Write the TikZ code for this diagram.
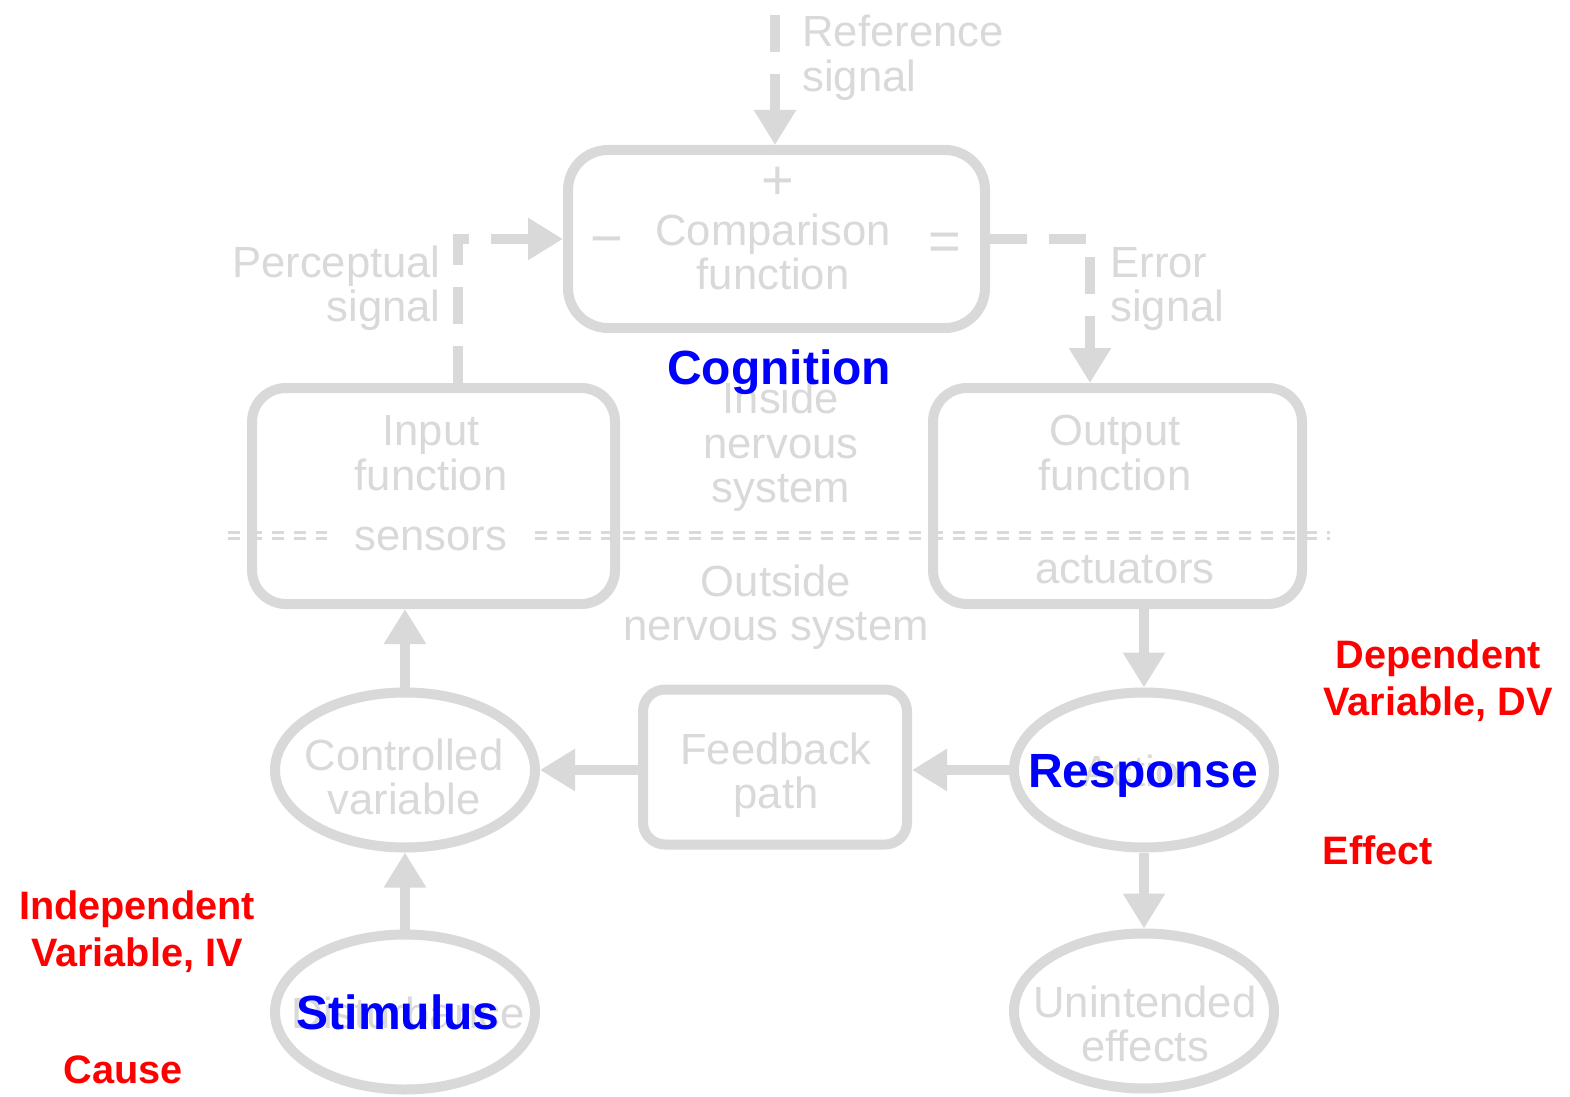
\documentclass[tikz,border=0pt]{standalone}
\usepackage{fontspec}
\setmainfont{Liberation Sans}
\usetikzlibrary{arrows.meta,shapes.geometric}
\definecolor{lg}{HTML}{D9D9D9}
\definecolor{bl}{HTML}{0000FF}
\definecolor{rd}{HTML}{FF0000}
\begin{document}
\begin{tikzpicture}[x=0.5pt,y=-0.5pt,
  box/.style={draw=lg,line width=5pt,inner sep=0pt},
  ell/.style={draw=lg,line width=5pt,ellipse,inner sep=0pt,minimum width=130pt,minimum height=77.5pt},
  gtxt/.style={text=lg,font=\fontsize{21.8pt}{22.25pt}\selectfont,align=center,inner sep=0pt},
  symtxt/.style={text=lg,font=\fontsize{28pt}{28pt}\selectfont,inner sep=0pt},
  btxt/.style={text=bl,font=\fontsize{24pt}{28pt}\selectfont\bfseries,inner sep=0pt},
  rtxt/.style={text=rd,font=\fontsize{19.85pt}{23.5pt}\selectfont\bfseries,align=center,inner sep=0pt},
  conn/.style={draw=lg,line width=5pt,-{Triangle[length=17.5pt,width=20pt]}},
  dconn/.style={conn,dash pattern=on 18.5pt off 11pt},
  sepline/.style={draw=lg,line width=1.15pt,dash pattern=on 6pt off 5pt}
]
\fill[white] (0,0) rectangle (1570,1097);
\useasboundingbox (0,0) rectangle (1570,1097);

% boxes
\node[box,rounded corners=20pt,minimum width=208.5pt,minimum height=89pt] (cmp) at (776.5,239) {};
\node[box,rounded corners=17pt,minimum width=181.5pt,minimum height=108pt] (inp) at (433.5,496) {};
\node[box,rounded corners=17pt,minimum width=184.5pt,minimum height=108pt] (out) at (1117.5,496) {};
\node[box,rounded corners=11pt,minimum width=132pt,minimum height=77.5pt] (fb) at (775,767) {};

% ellipses
\node[ell] (ctrl) at (405,770) {};
\node[ell] (resp) at (1144,770) {};
\node[ell] (stim) at (405,1012) {};
\node[ell] (unint) at (1144,1011) {};

% separator between inside and outside nervous system
\coordinate (sa1) at (228,532.5); \coordinate (sb1) at (327,532.5);
\coordinate (sa2) at (228,538.5); \coordinate (sb2) at (327,538.5);
\coordinate (sc1) at (535,532.5); \coordinate (sd1) at (1330,532.5);
\coordinate (sc2) at (535,538.5); \coordinate (sd2) at (1330,538.5);
\draw[sepline] (sa1) -- (sb1);
\draw[sepline] (sa2) -- (sb2);
\draw[sepline] (sc1) -- (sd1);
\draw[sepline] (sc2) -- (sd2);

% signals
\coordinate (refstart) at (775,15);
\draw[dconn] (refstart) -- (refstart |- cmp.north);
\coordinate (ps) at (458,383);
\draw[dconn] (ps) |- (cmp.west);
\coordinate (es) at (1090,383);
\draw[dconn] (cmp.east) -| (es);

% solid connectors
\draw[conn] (stim.north) -- (ctrl.south);
\draw[conn] (ctrl.north) -- (ctrl.north |- inp.south);
\draw[conn] (out.south -| resp.north) -- (resp.north);
\draw[conn] (resp.south) -- (unint.north);
\draw[conn] (resp.west) -- (resp.west -| fb.east);
\draw[conn] (fb.west |- ctrl.east) -- (ctrl.east);

% gray labels
\node[gtxt,anchor=west,align=left] (reflab) at (802,58) {Reference\\signal};
\node[symtxt] (plus) at (778,183) {+};
\node[symtxt] (minus) at (607,247) {−};
\node[symtxt] (eq) at (945,247) {=};
\node[gtxt] (cmplab) at (773,252) {Comparison\\function};
\node[gtxt,anchor=east,align=right] (perlab) at (441,288) {Perceptual\\signal};
\node[gtxt,anchor=west,align=left] (errlab) at (1110,289) {Error\\signal};
\node[gtxt] (inplab) at (431,453) {Input\\function};
\node[gtxt] (senslab) at (431,539) {sensors};
\node[gtxt] (outlab) at (1115,453) {Output\\function};
\node[gtxt] (actlab) at (1125,570) {actuators};
\node[gtxt] (inslab) at (781,447) {Inside\\nervous\\system};
\node[gtxt] (outslab) at (776,607) {Outside\\nervous system};
\node[gtxt] (ctrllab) at (404,777) {Controlled\\variable};
\node[gtxt] (fblab) at (776,775) {Feedback\\path};
\node[gtxt] (actionlab) at (1143,771) {Action};
\node[gtxt] (unlab) at (1145,1024) {Unintended\\effects};
\node[gtxt] (distlab) at (408,1013) {Disturbance};

% blue labels
\node[btxt] (cog) at (779,372) {Cognition};
\node[btxt] (resplab) at (1143,776) {Response};
\node[btxt] (stimlab) at (398,1012) {Stimulus};

% red labels
\node[rtxt] (dv) at (1438,681) {Dependent\\Variable, DV};
\node[rtxt] (eff) at (1378,850) {Effect};
\node[rtxt] (iv) at (137,932) {Independent\\Variable, IV};
\node[rtxt] (cause) at (123,1070) {Cause};
\end{tikzpicture}
\end{document}
